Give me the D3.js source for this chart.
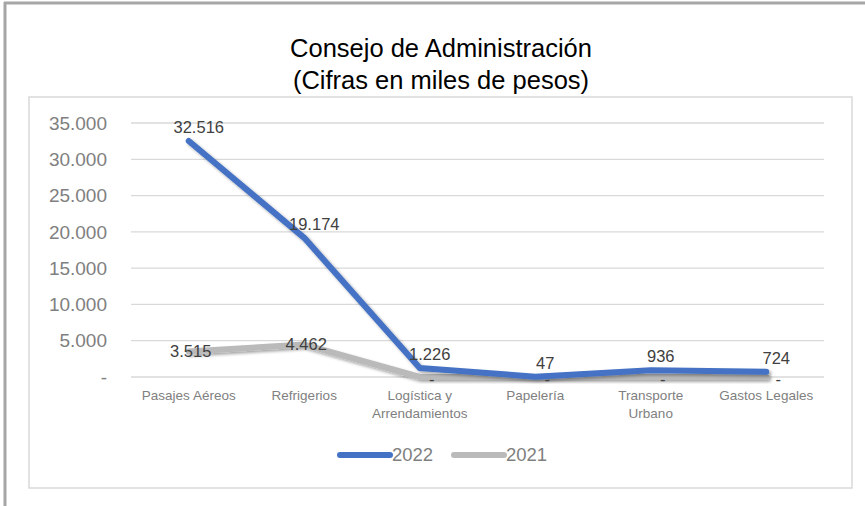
<!DOCTYPE html>
<html>
<head>
<meta charset="utf-8">
<script src="https://cdn.jsdelivr.net/npm/d3@7"></script>
<style>
  body { margin: 0; background: #fff; }
  text { font-family: "Liberation Sans", Arial, sans-serif; }
</style>
</head>
<body>
<svg id="chart" width="865" height="506"></svg>
<script>
// Consejo de Administración - gastos 2022 vs 2021

const categories = [
  ['Pasajes Aéreos'],
  ['Refrigerios'],
  ['Logística y', 'Arrendamientos'],
  ['Papelería'],
  ['Transporte', 'Urbano'],
  ['Gastos Legales']
];
const values2022 = [32516, 19174, 1226, 47, 936, 724];
const values2021 = [3515, 4462, 0, 0, 0, 0];
const yTicks = [0, 5000, 10000, 15000, 20000, 25000, 30000, 35000];
const seriesNames = ['2022', '2021'];

const svg = d3.select('#chart');

// number format es: thousands with a dot, zero as a dash
const fmt = v => v === 0 ? '-' : d3.format(',')(v).replace(/,/g, '.');

// outer frame (only top and left visible)
svg.append('line')
  .attr('x1', 4).attr('x2', 865).attr('y1', 3).attr('y2', 3)
  .attr('stroke', '#a6a6a6').attr('stroke-width', 3);
svg.append('line')
  .attr('x1', 5).attr('x2', 5).attr('y1', 2).attr('y2', 506)
  .attr('stroke', '#a6a6a6').attr('stroke-width', 3);

// chart area box
svg.append('rect')
  .attr('x', 29).attr('y', 97).attr('width', 823).attr('height', 391)
  .attr('fill', 'none').attr('stroke', '#d9d9d9').attr('stroke-width', 1.5);

// title
const title = svg.append('text')
  .attr('text-anchor', 'middle')
  .attr('font-size', 25.5).attr('fill', '#000');
title.append('tspan').attr('x', 441).attr('y', 57).text('Consejo de Administración');
title.append('tspan').attr('x', 441).attr('y', 89).text('(Cifras en miles de pesos)');

// scales
const x = d3.scaleBand()
  .domain(d3.range(categories.length))
  .range([131, 824]);
const cx = i => x(i) + x.bandwidth() / 2;

const y = d3.scaleLinear()
  .domain([0, 35000])
  .range([377, 123]);

// gridlines
svg.append('g')
  .selectAll('line')
  .data(yTicks)
  .enter()
  .append('line')
    .attr('x1', 131).attr('x2', 824)
    .attr('y1', d => y(d)).attr('y2', d => y(d))
    .attr('stroke', '#d9d9d9').attr('stroke-width', 1.3);

// y axis labels
svg.append('g')
  .selectAll('text')
  .data(yTicks)
  .enter()
  .append('text')
    .attr('x', 107)
    .attr('y', d => y(d))
    .attr('dy', '0.35em')
    .attr('text-anchor', 'end')
    .attr('font-size', 19)
    .attr('fill', '#808080')
    .text(fmt);

// x axis labels
svg.append('g')
  .selectAll('text')
  .data(categories)
  .enter()
  .append('text')
    .attr('text-anchor', 'middle')
    .attr('font-size', 13.5)
    .attr('fill', '#808080')
    .each(function(lines, i) {
      d3.select(this).selectAll('tspan')
        .data(lines)
        .enter()
        .append('tspan')
          .attr('x', cx(i))
          .attr('y', (d, j) => 400 + j * 18)
          .text(d => d);
    });

// drop shadow like the office chart
const defs = svg.append('defs');
defs.append('filter')
    .attr('id', 'shadow')
    .attr('x', '-10%').attr('y', '-10%')
    .attr('width', '120%').attr('height', '130%')
  .append('feDropShadow')
    .attr('dx', 2).attr('dy', 2)
    .attr('stdDeviation', 1.5)
    .attr('flood-color', '#000')
    .attr('flood-opacity', 0.35);

const line = d3.line()
  .x((d, i) => cx(i))
  .y(d => y(d));

const colors = { '2022': '#4472c4', '2021': '#bababa' };

// 2021 underneath, 2022 on top
svg.append('path')
  .datum(values2021)
  .attr('d', line)
  .attr('fill', 'none')
  .attr('stroke', colors['2021'])
  .attr('stroke-width', 6)
  .attr('stroke-linecap', 'round')
  .attr('stroke-linejoin', 'round')
  .attr('filter', 'url(#shadow)');

svg.append('path')
  .datum(values2022)
  .attr('d', line)
  .attr('fill', 'none')
  .attr('stroke', colors['2022'])
  .attr('stroke-width', 6)
  .attr('stroke-linecap', 'round')
  .attr('stroke-linejoin', 'round')
  .attr('filter', 'url(#shadow)');

// data labels
svg.append('g')
  .selectAll('text')
  .data(values2021)
  .enter()
  .append('text')
    .attr('x', (d, i) => cx(i) + (d === 0 ? 12 : 2))
    .attr('y', d => y(d))
    .attr('dy', d => d === 0 ? '0.5em' : '0.35em')
    .attr('text-anchor', 'middle')
    .attr('font-size', 16.5)
    .attr('fill', '#404040')
    .text(fmt);

svg.append('g')
  .selectAll('text')
  .data(values2022)
  .enter()
  .append('text')
    .attr('x', (d, i) => cx(i) + 10)
    .attr('y', d => y(d) - 8)
    .attr('text-anchor', 'middle')
    .attr('font-size', 16.5)
    .attr('fill', '#404040')
    .text(fmt);

// legend
const legend = svg.append('g')
  .selectAll('g')
  .data(seriesNames)
  .enter()
  .append('g')
    .attr('transform', (d, i) => `translate(${340 + i * 114},455)`);

legend.append('line')
  .attr('x1', 0).attr('x2', 50)
  .attr('stroke', d => colors[d])
  .attr('stroke-width', 6)
  .attr('stroke-linecap', 'round');

legend.append('text')
  .attr('x', 52)
  .attr('dy', '0.35em')
  .attr('font-size', 18.5)
  .attr('fill', '#808080')
  .text(d => d);
</script>
</body>
</html>
